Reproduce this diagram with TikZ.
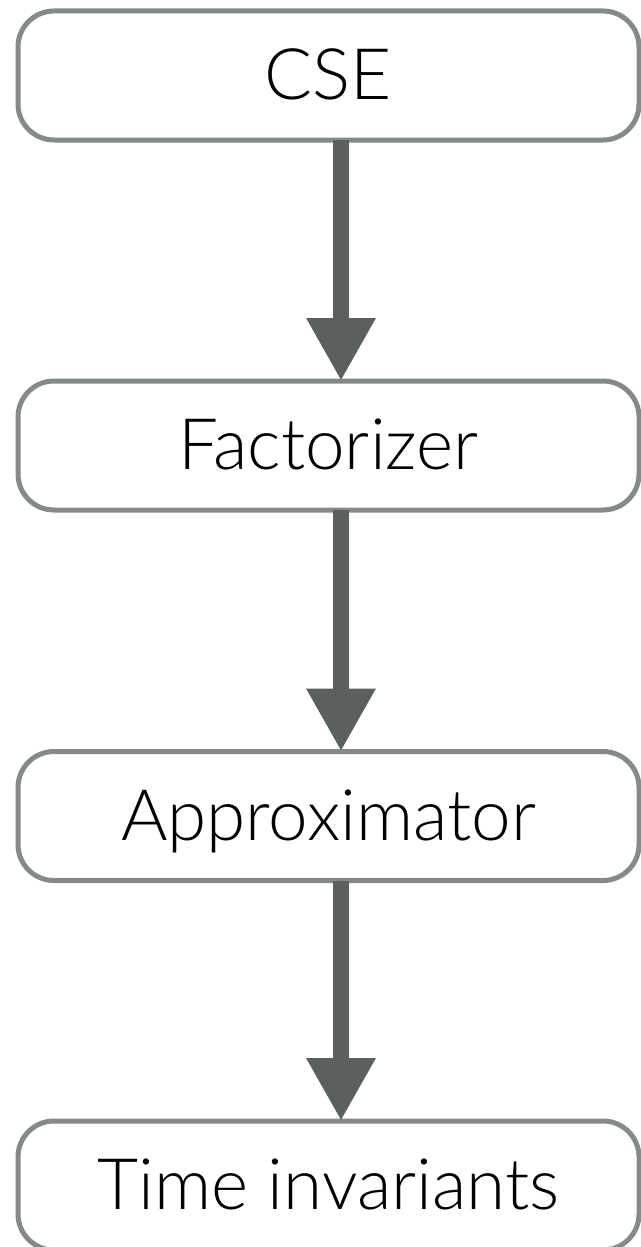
\documentclass[tikz,border=0pt]{standalone}
\usepackage{fontspec}
\setmainfont{Lato Light}
\usetikzlibrary{arrows.meta}
\definecolor{boxline}{HTML}{858A87}
\definecolor{arrowgray}{HTML}{5B5F5D}
\tikzset{
  stage/.style={draw=boxline, line width=5pt, rounded corners=36pt,
    minimum width=621pt, minimum height=129pt, inner sep=0pt, outer sep=0pt,
    font=\fontsize{71}{76}\selectfont, text height=48pt, text depth=0pt},
  flow/.style={draw=arrowgray, line width=16pt,
    -{Triangle[width=65pt, length=63pt]}, fill=arrowgray}
}
\begin{document}
\begin{tikzpicture}[x=1pt, y=-1pt]
  \useasboundingbox (0,0) rectangle (640,1247);
  \node[stage] (cse)    at (328.5, 75.5)  {CSE};
  \node[stage] (fact)   at (328.5, 445.5) {Factorizer};
  \node[stage] (approx) at (328.5, 816)   {Approximator};
  \node[stage] (timeinv) at (328.5, 1185.5) {Time invariants};
  \draw[flow] ([xshift=12.5pt]cse.south)    -- ([xshift=12.5pt]fact.north);
  \draw[flow] ([xshift=12.5pt]fact.south)   -- ([xshift=12.5pt]approx.north);
  \draw[flow] ([xshift=12.5pt]approx.south) -- ([xshift=12.5pt]timeinv.north);
\end{tikzpicture}
\end{document}
